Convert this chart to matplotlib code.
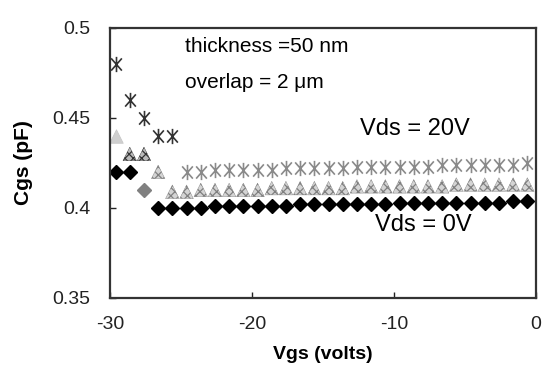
import numpy as np
import matplotlib
matplotlib.use("Agg")
import matplotlib.pyplot as plt
from matplotlib.path import Path

plt.rcParams['font.family'] = ['Liberation Sans Narrow', 'Liberation Sans', 'DejaVu Sans']
plt.rcParams['hatch.linewidth'] = 0.9

# Data
vgs = [-29.6 + i for i in range(30)]
cgs_vds20 = [0.480, 0.460, 0.450, 0.440, 0.440,
             0.420, 0.420, 0.421, 0.421, 0.421, 0.421, 0.421, 0.422, 0.422, 0.422,
             0.422, 0.422, 0.423, 0.423, 0.423, 0.423, 0.423, 0.423, 0.424, 0.424,
             0.424, 0.424, 0.424, 0.424, 0.425]
cgs_mid = [0.440, 0.430, 0.430, 0.420,
           0.409, 0.409, 0.410, 0.410, 0.410, 0.410, 0.410, 0.411, 0.411, 0.411,
           0.411, 0.411, 0.411, 0.412, 0.412, 0.412, 0.412, 0.412, 0.412, 0.412,
           0.413, 0.413, 0.413, 0.413, 0.413, 0.413]
cgs_vds0 = [0.420, 0.420, 0.410,
            0.400, 0.400, 0.400, 0.400, 0.401, 0.401, 0.401, 0.401, 0.401, 0.401,
            0.402, 0.402, 0.402, 0.402, 0.402, 0.402, 0.402, 0.403, 0.403, 0.403,
            0.403, 0.403, 0.403, 0.403, 0.403, 0.404, 0.404]
xticks = [-30, -20, -10, 0]
yticks = [0.35, 0.4, 0.45, 0.5]

fig = plt.figure(figsize=(5.44, 3.72), dpi=100)
ax = fig.add_axes([0.202, 0.199, 0.783, 0.726])

# asterisk marker: vertical line + X
star = Path([(0, -1), (0, 1), (-0.7, -0.8), (0.7, 0.8), (-0.7, 0.8), (0.7, -0.8)],
            [Path.MOVETO, Path.LINETO, Path.MOVETO, Path.LINETO, Path.MOVETO, Path.LINETO])

x = np.array(vgs)
s20 = np.array(cgs_vds20)
smid = np.array(cgs_mid)
s0 = np.array(cgs_vds0)

# Vds = 20V (asterisks)
ax.plot(x[:5], s20[:5], linestyle='none', marker=star, ms=11, mec='#333333', mew=1.2)
ax.plot(x[5:], s20[5:], linestyle='none', marker=star, ms=11, mec='#8a8a8a', mew=1.2)

# middle series (hatched triangles)
ax.scatter(x[:1], smid[:1], marker='^', s=95, facecolor='#cfcfcf', edgecolor='#c4c4c4', linewidths=0.5)
ax.scatter(x[1:3], smid[1:3], marker='^', s=95, facecolor='#bbbbbb', edgecolor='#333333', hatch='xxxx', linewidths=0.3)
ax.scatter(x[3:], smid[3:], marker='^', s=95, facecolor='#d4d4d4', edgecolor='#808080', hatch='xxxx', linewidths=0.3)

# Vds = 0V (diamonds)
ax.plot(x[:2], s0[:2], linestyle='none', marker='D', ms=7, color='black')
ax.plot(x[2:3], s0[2:3], linestyle='none', marker='D', ms=7, color='#808080')
ax.plot(x[3:], s0[3:], linestyle='none', marker='D', ms=7, color='black')

ax.set_xlim(-30, 0)
ax.set_ylim(0.35, 0.5)
ax.set_xticks(xticks)
ax.set_xticklabels([str(v) for v in xticks])
ax.set_yticks(yticks)
ax.set_yticklabels(['0.35', '0.4', '0.45', '0.5'])
ax.tick_params(direction='in', length=4, width=1, labelsize=14, colors='#222222')
ax.tick_params(axis='y', pad=14)
ax.tick_params(axis='x', pad=13)
for sp in ax.spines.values():
    sp.set_linewidth(1.6)
    sp.set_color('#333333')

ax.set_xlabel('Vgs (volts)', fontsize=14, fontweight='bold', labelpad=9)
ax.set_ylabel('Cgs (pF)', fontsize=15, fontweight='bold', labelpad=14)

ax.text(-24.7, 0.4867, 'thickness =50 nm', fontsize=15, va='baseline', ha='left')
ax.text(-24.7, 0.4667, 'overlap = 2 \u03bcm', fontsize=15, va='baseline', ha='left')
ax.text(-12.4, 0.4406, 'Vds = 20V', fontsize=17, va='baseline', ha='left')
ax.text(-11.3, 0.387, 'Vds = 0V', fontsize=17, va='baseline', ha='left')

fig.savefig('out.png', dpi=100)
